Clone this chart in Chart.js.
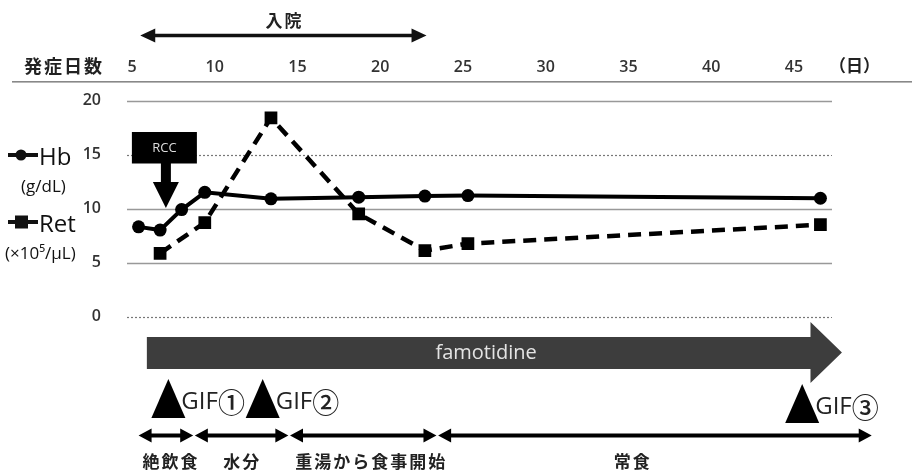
<!DOCTYPE html>
<html>
<head>
<meta charset="utf-8">
<script src="https://cdn.jsdelivr.net/npm/chart.js@4/dist/chart.umd.min.js"></script>
<style>
html,body{margin:0;padding:0;background:#fff;}
#c{display:block;}
</style>
</head>
<body>
<canvas id="c" width="912" height="470"></canvas>
<script>
// ---- data ----
const hbDays = [5.4, 6.7, 8.0, 9.4, 13.4, 18.7, 22.7, 25.3, 46.6];
const hbValues = [8.3, 8.0, 9.9, 11.5, 10.9, 11.05, 11.15, 11.2, 10.95];
const retDays = [6.7, 9.4, 13.4, 18.7, 22.7, 25.3, 46.6];
const retValues = [5.85, 8.7, 18.4, 9.5, 6.1, 6.75, 8.5];
const xTicks = [5, 10, 15, 20, 25, 30, 35, 40, 45];
const yTicks = [0, 5, 10, 15, 20];
const gridDotted = [true, false, false, true, false];

const admissionDays = [5.5, 22.8];
const admissionLabel = '入院';
const rccDay = 7.05;
const famotidineDays = [5.9, 46.0, 47.9];
const famotidineLabel = 'famotidine';
const famotidineLabelDay = 26.4;
const gifDays = [7.2, 12.9, 45.5];
const gifLabels = ['GIF', 'GIF', 'GIF'];
const gifNumbers = ['①', '②', '③'];
const dietStart = [5.4, 8.8, 14.55, 23.5];
const dietEnd = [8.7, 14.45, 23.4, 49.7];
const dietLabels = ['絶飲食', '水分', '重湯から食事開始', '常食'];
const dietLabelDays = [7.3, 11.6, 19.4, 35.2];

const FONT = '"Open Sans", "Noto Sans CJK JP", sans-serif';
const JFONT = '"Noto Sans CJK JP", sans-serif';

function arrowH(ctx, x1, x2, y, th, hl, hh) {
  ctx.beginPath();
  ctx.moveTo(x2, y);
  ctx.lineTo(x2 - hl, y - hh);
  ctx.lineTo(x2 - hl, y - th / 2);
  ctx.lineTo(x1 + hl, y - th / 2);
  ctx.lineTo(x1 + hl, y - hh);
  ctx.lineTo(x1, y);
  ctx.lineTo(x1 + hl, y + hh);
  ctx.lineTo(x1 + hl, y + th / 2);
  ctx.lineTo(x2 - hl, y + th / 2);
  ctx.lineTo(x2 - hl, y + hh);
  ctx.closePath();
  ctx.fill();
}

const gridPlugin = {
  id: 'grid',
  beforeDatasetsDraw(chart) {
    const ctx = chart.ctx, ca = chart.chartArea, ys = chart.scales.y;
    ctx.save();
    yTicks.forEach((v, i) => {
      const y = Math.round(ys.getPixelForValue(v)) + 0.5;
      ctx.beginPath();
      ctx.strokeStyle = gridDotted[i] ? '#777' : '#999';
      ctx.lineWidth = gridDotted[i] ? 1.2 : 1.6;
      ctx.setLineDash(gridDotted[i] ? [2, 2] : []);
      ctx.moveTo(ca.left, y);
      ctx.lineTo(ca.right, y);
      ctx.stroke();
    });
    ctx.restore();
  }
};

const annotPlugin = {
  id: 'annot',
  afterDraw(chart) {
    const ctx = chart.ctx, xs = chart.scales.x;
    const px = d => xs.getPixelForValue(d);
    ctx.save();

    // top axis line (spans the whole width under the day labels)
    ctx.fillStyle = '#888';
    ctx.fillRect(12, 81, 900, 1.6);

    // axis captions
    ctx.fillStyle = '#222';
    ctx.font = 'bold 18px ' + JFONT;
    ctx.textBaseline = 'middle';
    ctx.textAlign = 'left';
    ctx.letterSpacing = '2px';
    ctx.fillText('発症日数', 24, 66);
    ctx.letterSpacing = '0px';
    ctx.font = 'bold 17px ' + JFONT;
    ctx.fillText('（日）', 829, 66);

    // admission arrow
    ctx.fillStyle = '#111';
    arrowH(ctx, px(admissionDays[0]), px(admissionDays[1]), 35.5, 3.5, 15, 7);
    ctx.font = 'bold 17px ' + JFONT;
    ctx.textAlign = 'center';
    ctx.letterSpacing = '2px';
    ctx.fillStyle = '#222';
    ctx.fillText(admissionLabel, (px(admissionDays[0]) + px(admissionDays[1])) / 2 + 1, 21);
    ctx.letterSpacing = '0px';

    // RCC box and arrow
    const rx = px(rccDay);
    ctx.fillStyle = '#000';
    ctx.fillRect(rx - 34, 132, 65, 31.5);
    ctx.fillStyle = '#ddd';
    ctx.font = '13px ' + FONT;
    ctx.textAlign = 'center';
    ctx.fillText('RCC', rx - 1.5, 148);
    ctx.fillStyle = '#000';
    ctx.fillRect(rx - 5, 162, 10, 21);
    ctx.beginPath();
    ctx.moveTo(rx - 13, 182);
    ctx.lineTo(rx + 13, 182);
    ctx.lineTo(rx, 208);
    ctx.closePath();
    ctx.fill();

    // legend
    ctx.fillStyle = '#111';
    ctx.fillRect(8, 153, 30, 4);
    ctx.beginPath();
    ctx.arc(21, 155, 5.5, 0, Math.PI * 2);
    ctx.fill();
    ctx.fillRect(8, 220, 30, 4);
    ctx.fillRect(15, 215.5, 13, 13);
    ctx.fillStyle = '#111';
    ctx.textAlign = 'left';
    ctx.font = '500 24px ' + FONT;
    ctx.fillText('Hb', 39, 158);
    ctx.fillText('Ret', 39, 225);
    ctx.font = '17px ' + FONT;
    ctx.fillText('(g/dL)', 21, 187);
    ctx.fillText('(×10⁵/μL)', 5, 254);

    // famotidine arrow
    const f0 = px(famotidineDays[0]), f1 = px(famotidineDays[1]), f2 = px(famotidineDays[2]);
    ctx.fillStyle = '#3d3d3d';
    ctx.beginPath();
    ctx.moveTo(f0, 337);
    ctx.lineTo(f1, 337);
    ctx.lineTo(f1, 322);
    ctx.lineTo(f2, 352.5);
    ctx.lineTo(f1, 383);
    ctx.lineTo(f1, 369);
    ctx.lineTo(f0, 369);
    ctx.closePath();
    ctx.fill();
    ctx.fillStyle = '#e4e4e4';
    ctx.font = '20px ' + FONT;
    ctx.textAlign = 'center';
    ctx.fillText(famotidineLabel, px(famotidineLabelDay), 353);

    // GIF markers
    const gifShift = [0, 0, 5];
    gifDays.forEach((d, i) => {
      const ax = px(d), top = 379 + gifShift[i], base = 418 + gifShift[i];
      ctx.fillStyle = '#000';
      ctx.beginPath();
      ctx.moveTo(ax, top);
      ctx.lineTo(ax + 17, base);
      ctx.lineTo(ax - 17, base);
      ctx.closePath();
      ctx.fill();
      ctx.fillStyle = '#222';
      ctx.font = '24px ' + FONT;
      ctx.textAlign = 'left';
      const tx = ax + 13;
      ctx.fillText(gifLabels[i], tx, base - 16);
      const w = ctx.measureText(gifLabels[i]).width;
      ctx.font = '500 27px ' + JFONT;
      ctx.fillText(gifNumbers[i], tx + w, base - 15);
    });

    // diet arrows
    ctx.fillStyle = '#000';
    dietStart.forEach((d, i) => {
      arrowH(ctx, px(d), px(dietEnd[i]), 435.5, 4, 13, 7);
    });
    ctx.fillStyle = '#222';
    ctx.font = 'bold 17px ' + JFONT;
    ctx.textAlign = 'center';
    ctx.letterSpacing = '2px';
    dietLabels.forEach((t, i) => {
      ctx.fillText(t, px(dietLabelDays[i]) + 1, 462);
    });
    ctx.letterSpacing = '0px';
    ctx.restore();
  }
};

const toPts = (xs, ys) => xs.map((x, i) => ({ x: x, y: ys[i] }));

new Chart(document.getElementById('c'), {
  type: 'line',
  data: {
    datasets: [
      {
        label: 'Ret',
        data: toPts(retDays, retValues),
        borderColor: '#000',
        backgroundColor: '#000',
        borderWidth: 4.5,
        borderDash: [13, 8],
        pointStyle: 'rect',
        pointRadius: 9,
        pointBorderWidth: 0,
        tension: 0
      },
      {
        label: 'Hb',
        data: toPts(hbDays, hbValues),
        borderColor: '#000',
        backgroundColor: '#000',
        borderWidth: 4,
        pointStyle: 'circle',
        pointRadius: 6.5,
        pointBorderWidth: 0,
        tension: 0
      }
    ]
  },
  options: {
    responsive: false,
    animation: false,
    events: [],
    layout: { padding: { left: 0, right: 80, top: 0, bottom: 153.5 } },
    plugins: { legend: { display: false }, tooltip: { enabled: false } },
    scales: {
      x: {
        type: 'linear',
        position: 'top',
        min: 4.7,
        max: 47.3,
        afterBuildTicks: s => { s.ticks = xTicks.map(v => ({ value: v })); },
        afterFit: s => { s.height = 100.5; },
        grid: { display: false },
        border: { display: false },
        ticks: {
          padding: 15,
          maxRotation: 0,
          autoSkip: false,
          color: '#333',
          font: { family: FONT, size: 16, weight: '600' }
        }
      },
      y: {
        min: 0,
        max: 20,
        afterBuildTicks: s => { s.ticks = yTicks.map(v => ({ value: v })); },
        afterFit: s => { s.width = 127; },
        grid: { display: false },
        border: { display: false },
        ticks: {
          padding: 18,
          color: '#333',
          font: { family: FONT, size: 16, weight: '600' }
        }
      }
    }
  },
  plugins: [gridPlugin, annotPlugin]
});
</script>
</body>
</html>
